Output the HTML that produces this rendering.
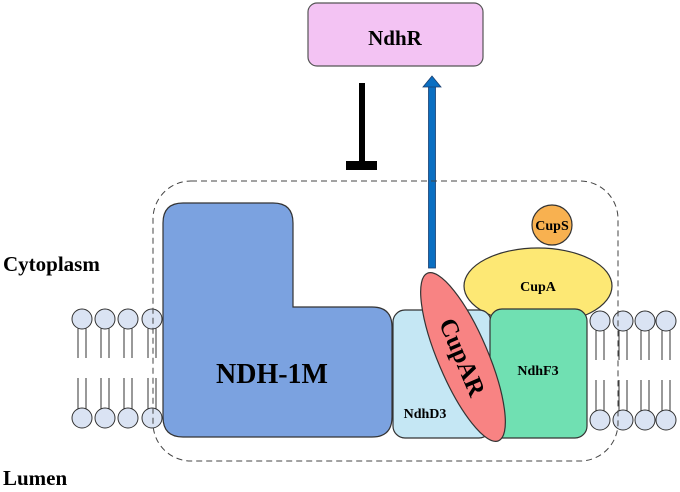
<!DOCTYPE html>
<html><head><style>body{margin:0;background:#fff}</style></head><body>
<svg width="680" height="487" viewBox="0 0 680 487" xmlns="http://www.w3.org/2000/svg" font-family="Liberation Serif, serif" font-weight="bold">
<rect x="308" y="3" width="175" height="63" rx="9" fill="#f3c3f3" stroke="#555" stroke-width="1.2"/>
<text x="395" y="45" font-size="21" text-anchor="middle">NdhR</text>
<rect x="359" y="83" width="6" height="82" fill="#000"/>
<rect x="346" y="161" width="31" height="9" fill="#000"/>
<rect x="428.5" y="86" width="7" height="182" fill="#0a6fc2" stroke="#1a3f70" stroke-width="0.8"/>
<polygon points="432,76 423,87 441,87" fill="#0a6fc2" stroke="#1a3f70" stroke-width="0.8"/>
<text x="3" y="271" font-size="21">Cytoplasm</text>
<text x="3" y="485" font-size="21">Lumen</text>
<g stroke="#333" stroke-width="1">
<g id="lip">
<line x1="78" y1="319" x2="78" y2="358"/><line x1="86" y1="319" x2="86" y2="358"/>
<line x1="78" y1="378" x2="78" y2="418"/><line x1="86" y1="378" x2="86" y2="418"/>
<circle cx="82" cy="319" r="10" fill="#dae3f3"/><circle cx="82" cy="418" r="10" fill="#dae3f3"/>
</g>
<use href="#lip" x="23"/><use href="#lip" x="46"/><use href="#lip" x="70"/>
<use href="#lip" x="518" y="2"/><use href="#lip" x="541" y="2"/><use href="#lip" x="563" y="2"/><use href="#lip" x="584" y="2"/>
</g>
<path d="M183,203 H273 Q293,203 293,223 V307 H372 Q392,307 392,327 V417 Q392,437 372,437 H183 Q163,437 163,417 V223 Q163,203 183,203 Z" fill="#7ba2e0" stroke="#333" stroke-width="1.2"/>
<text x="272" y="383" font-size="28" text-anchor="middle">NDH-1M</text>
<ellipse cx="538" cy="286" rx="74" ry="38" fill="#fde874" stroke="#333" stroke-width="1.2"/>
<circle cx="552" cy="225" r="20" fill="#f8b150" stroke="#333" stroke-width="1.2"/>
<text x="552" y="230" font-size="14" text-anchor="middle">CupS</text>
<text x="538" y="291" font-size="14" text-anchor="middle">CupA</text>
<rect x="393" y="310" width="98" height="128" rx="12" fill="#c5e7f4" stroke="#333" stroke-width="1.2"/>
<rect x="490" y="309" width="97" height="129" rx="12" fill="#70e0b2" stroke="#333" stroke-width="1.2"/>
<text x="538" y="375" font-size="14" text-anchor="middle">NdhF3</text>
<text x="425" y="418" font-size="14" text-anchor="middle">NdhD3</text>
<g transform="translate(463,357) rotate(67)">
<ellipse cx="0" cy="0" rx="91" ry="25" fill="#f88383" stroke="#333" stroke-width="1.2"/>
<text x="0" y="9" font-size="25" text-anchor="middle">CupAR</text>
</g>
<rect x="153" y="181" width="465" height="280" rx="38" fill="none" stroke="#444" stroke-width="1" stroke-dasharray="6,4"/>
</svg>
</body></html>
